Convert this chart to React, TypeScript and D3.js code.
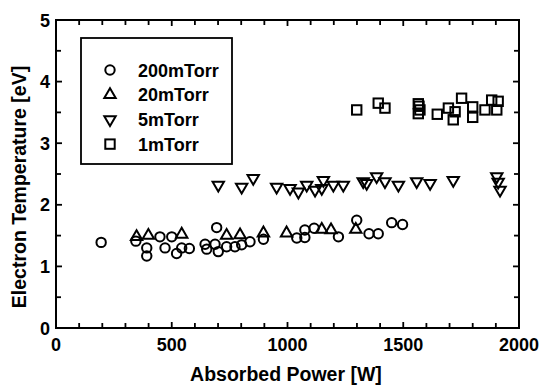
import React from "react";
import * as d3 from "d3";

const seriesNames = ["200mTorr", "20mTorr", "5mTorr", "1mTorr"];

const p200Power = [195, 345, 392, 392, 449, 471, 500, 521, 543, 576, 644, 651, 694, 687, 701, 737, 773, 802, 838, 896, 1040, 1075, 1075, 1115, 1220, 1299, 1352, 1392, 1450, 1497];
const p200Temp = [1.39, 1.41, 1.30, 1.17, 1.48, 1.30, 1.48, 1.21, 1.30, 1.29, 1.36, 1.28, 1.63, 1.36, 1.24, 1.32, 1.32, 1.35, 1.40, 1.44, 1.46, 1.47, 1.59, 1.62, 1.48, 1.75, 1.53, 1.53, 1.71, 1.68];

const p20Power = [348, 399, 543, 737, 795, 896, 996, 1148, 1188, 1295];
const p20Temp = [1.48, 1.50, 1.52, 1.50, 1.51, 1.54, 1.54, 1.60, 1.59, 1.60];

const p5Power = [701, 802, 852, 953, 1011, 1047, 1083, 1119, 1148, 1155, 1198, 1241, 1327, 1342, 1385, 1421, 1479, 1558, 1616, 1716, 1904, 1910, 1918];
const p5Temp = [2.32, 2.29, 2.43, 2.29, 2.27, 2.21, 2.32, 2.24, 2.27, 2.40, 2.32, 2.32, 2.38, 2.35, 2.46, 2.38, 2.32, 2.38, 2.35, 2.40, 2.46, 2.37, 2.24];

const p1Power = [1299, 1392, 1421, 1565, 1568, 1572, 1565, 1647, 1695, 1724, 1752, 1716, 1800, 1800, 1853, 1882, 1904, 1910];
const p1Temp = [3.54, 3.65, 3.57, 3.64, 3.60, 3.54, 3.48, 3.47, 3.57, 3.51, 3.73, 3.38, 3.59, 3.42, 3.54, 3.70, 3.54, 3.68];

const xTickLabels = [0, 500, 1000, 1500, 2000];
const yTickLabels = [0, 1, 2, 3, 4, 5];

const W = 539, H = 388;
const L = 56, R = 519, T = 20, B = 328;
const font = "'Liberation Sans', Arial, Helvetica, sans-serif";

function marker(kind: number, cx: number, cy: number, key: string) {
  const sw = 2;
  if (kind === 0) return <circle key={key} cx={cx} cy={cy} r={4.7} fill="none" stroke="#000" strokeWidth={sw} />;
  if (kind === 1) {
    const w = 5.7, h = 9.8;
    const d = `M${cx - w},${cy + h / 3} L${cx + w},${cy + h / 3} L${cx},${cy - (2 * h) / 3} Z`;
    return <path key={key} d={d} fill="none" stroke="#000" strokeWidth={sw} strokeLinejoin="miter" />;
  }
  if (kind === 2) {
    const w = 5.7, h = 9.8;
    const d = `M${cx - w},${cy - h / 3} L${cx + w},${cy - h / 3} L${cx},${cy + (2 * h) / 3} Z`;
    return <path key={key} d={d} fill="none" stroke="#000" strokeWidth={sw} strokeLinejoin="miter" />;
  }
  const s = 4.7;
  return <rect key={key} x={cx - s} y={cy - s} width={2 * s} height={2 * s} fill="none" stroke="#000" strokeWidth={sw} />;
}

export default function App() {
  const x = d3.scaleLinear().domain([0, 2000]).range([L, R]);
  const y = d3.scaleLinear().domain([0, 5]).range([B, T]);
  const xTicks = d3.range(0, 2001, 100);
  const yTicks = d3.range(0, 5.01, 0.5);
  const series = [
    [p200Power, p200Temp],
    [p20Power, p20Temp],
    [p5Power, p5Temp],
    [p1Power, p1Temp],
  ];
  return (
    <svg width={W} height={H} style={{ position: "absolute", left: 0, top: 0, background: "#fff" }}>
      <rect x={0} y={0} width={W} height={H} fill="#fff" />
      {xTicks.map((t) => {
        const len = t % 500 === 0 ? 6 : 5;
        return (
          <g key={"xt" + t}>
            <line x1={x(t)} x2={x(t)} y1={B} y2={B - len} stroke="#000" strokeWidth={1.8} />
            <line x1={x(t)} x2={x(t)} y1={T} y2={T + len} stroke="#000" strokeWidth={1.8} />
          </g>
        );
      })}
      {yTicks.map((t) => {
        const len = Math.abs(t - Math.round(t)) < 1e-6 ? 6 : 5;
        return (
          <g key={"yt" + t}>
            <line x1={L} x2={L + len} y1={y(t)} y2={y(t)} stroke="#000" strokeWidth={1.8} />
            <line x1={R} x2={R - len} y1={y(t)} y2={y(t)} stroke="#000" strokeWidth={1.8} />
          </g>
        );
      })}
      <rect x={L} y={T} width={R - L} height={B - T} fill="none" stroke="#000" strokeWidth={2} />
      {xTickLabels.map((t) => (
        <text key={"xl" + t} x={x(t)} y={351} textAnchor="middle" fontFamily={font} fontWeight="bold" fontSize={18} fill="#000">{t}</text>
      ))}
      {yTickLabels.map((t) => (
        <text key={"yl" + t} x={50} y={y(t) + 6.5} textAnchor="end" fontFamily={font} fontWeight="bold" fontSize={18} fill="#000">{t}</text>
      ))}
      <text x={286} y={381} textAnchor="middle" fontFamily={font} fontWeight="bold" fontSize={19.5} fill="#000">Absorbed Power [W]</text>
      <text transform={`translate(26,187) rotate(-90)`} textAnchor="middle" fontFamily={font} fontWeight="bold" fontSize={19.5} fill="#000">Electron Temperature [eV]</text>
      {series.map(([px, py], si) =>
        px.map((p, i) => marker(si, x(p), y(py[i]), `m${si}-${i}`))
      )}
      <rect x={81} y={38} width={151} height={126} fill="#fff" stroke="#000" strokeWidth={1.8} />
      {seriesNames.map((n, i) => {
        const cy = 70 + i * 24.7;
        return (
          <g key={"lg" + i}>
            {marker(i, 110, cy, "lm" + i)}
            <text x={138} y={cy + 6.5} fontFamily={font} fontWeight="bold" fontSize={18} fill="#000">{n}</text>
          </g>
        );
      })}
    </svg>
  );
}
